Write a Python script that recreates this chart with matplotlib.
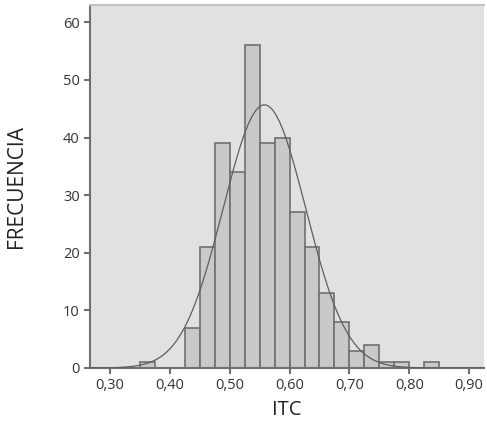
import numpy as np
import matplotlib
matplotlib.use("Agg")
import matplotlib.pyplot as plt
from matplotlib.ticker import FuncFormatter

plt.rcParams['font.family'] = ['Open Sans', 'DejaVu Sans']

# Histogram data (bin left edges, width 0.025)
bin_lefts = [0.350, 0.375, 0.400, 0.425, 0.450, 0.475, 0.500, 0.525, 0.550, 0.575,
             0.600, 0.625, 0.650, 0.675, 0.700, 0.725, 0.750, 0.775, 0.800, 0.825]
counts = [1, 0, 0, 7, 21, 39, 34, 56, 39, 40,
          27, 21, 13, 8, 3, 4, 1, 1, 0, 1]
bin_width = 0.025

# Normal curve parameters
mean_itc = 0.558
sd_itc = 0.069

x_ticks = [0.30, 0.40, 0.50, 0.60, 0.70, 0.80, 0.90]
y_ticks = [0, 10, 20, 30, 40, 50, 60]

fig = plt.figure(figsize=(4.87, 4.22), dpi=100)
ax = fig.add_axes([0.185, 0.128, 0.809, 0.86])
ax.set_facecolor('#e1e1e1')

lefts = [l for l, c in zip(bin_lefts, counts) if c > 0]
hs = [c for c in counts if c > 0]
ax.bar(lefts, hs, width=bin_width, align='edge', color='#c9c9c9',
       edgecolor='#707070', linewidth=1.2, zorder=2)

n = sum(counts)
xs = np.linspace(0.2667, 0.925, 400)
ys = n * bin_width / (sd_itc * np.sqrt(2 * np.pi)) * np.exp(-0.5 * ((xs - mean_itc) / sd_itc) ** 2)
ax.plot(xs, ys, color='#5e5e5e', linewidth=0.9, zorder=3)

ax.set_xlim(0.2667, 0.925)
ax.set_ylim(0, 63)
ax.set_xticks(x_ticks)
ax.set_yticks(y_ticks)
ax.xaxis.set_major_formatter(FuncFormatter(lambda v, p: f"{v:.2f}".replace('.', ',')))
ax.tick_params(axis='both', labelsize=10.5, colors='#333333', length=4, width=1.5, direction='out')
ax.tick_params(axis='both', color='#707070')

for s in ['left', 'bottom']:
    ax.spines[s].set_color('#707070')
    ax.spines[s].set_linewidth(1.5)
ax.spines['top'].set_color('#c0c0c0')
ax.spines['top'].set_linewidth(1.5)
ax.spines['right'].set_visible(False)

ax.set_xlabel('ITC', fontsize=14.5, color='#222222', labelpad=5)
ax.set_ylabel('FRECUENCIA', fontsize=15, color='#222222', labelpad=26)

fig.savefig('out.png', dpi=100, facecolor='white')
